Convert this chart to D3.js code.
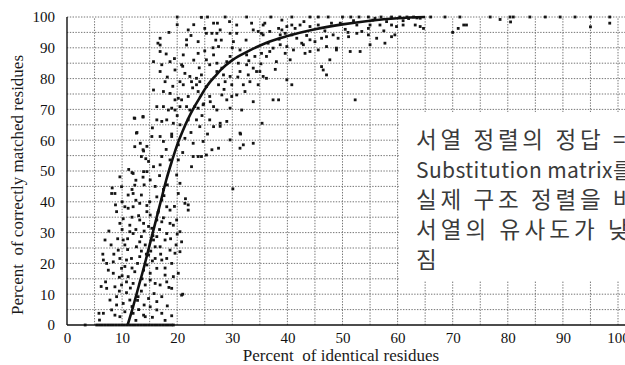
<!DOCTYPE html>
<html><head><meta charset="utf-8">
<script src="https://cdn.jsdelivr.net/npm/d3@7"></script>
<style>
html,body{margin:0;padding:0;background:#fff;}
svg{display:block;}
</style></head>
<body>
<svg id="c" width="625" height="365"></svg>
<script>
// ---- data (percent identical, percent correctly matched) ----
const xTicks = [0,10,20,30,40,50,60,70,80,90,100];
const yTicks = [0,10,20,30,40,50,60,70,80,90,100];
const gridSteps = [5,10,15,20,25,30,35,40,45,50,55,60,65,70,75,80,85,90,95,100];
const xTitle = "Percent  of identical residues";
const yTitle = "Percent  of correctly matched residues";
const noteLines = ["서열 정렬의 정답 =", "Substitution matrix를", "실제 구조 정렬을 바", "서열의 유사도가 낮", "짐"];
const notePrefixes = ["서열 정렬의 정답 ", "Substitution matrix", "실제 구조 정렬을 ", "서열의 유사도가 ", ""];
const notePrefixWidths = [197, 197, 197, 192, 0];

const curve = [[11,0],[12,6],[13,12.5],[14,19],[15,26],[16,33],[17,40],[18,47],[19,53],[20,58.5],[21,63],[22,67],[23,70.5],[24,73.5],[25,76.5],[26,79],[27,81],[28,83],[30,86],[33,89],[36,91.5],[40,93.8],[45,96],[50,97.6],[55,98.8],[60,99.6],[65,100]];

const zeroRow = [3.3,5.4,5.9,6.4,6.9,7.4,7.9,8.4,8.9,9.4,9.9,10.4,10.9,11.4,11.9,12.4,12.9,13.4,13.9,14.4,14.9,15.4,15.9,16.4,16.9,17.4,17.9,18.4,18.9,19.3];

const lowPts = [[9.6,48.1],[12.0,49.2],[13.9,49.8],[9.9,44.9],[12.3,45.4],[15.1,47.1],[19.9,48.7],[20.5,46.0],[8.1,42.7],[8.7,42.7],[11.1,42.2],[12.0,42.7],[13.5,42.2],[13.2,39.5],[16.3,41.6],[17.2,40.6],[20.2,42.7],[21.4,39.5],[22.0,37.3],[10.5,38.4],[11.1,37.9],[12.0,38.4],[14.5,36.8],[15.1,35.7],[18.1,38.4],[18.7,37.3],[9.0,36.8],[19.9,34.1],[13.2,34.1],[13.9,33.0],[16.3,34.1],[17.2,33.5],[18.7,33.0],[19.3,32.4],[9.6,33.0],[11.4,32.4],[6.9,27.6],[10.2,27.6],[11.4,30.3],[12.0,29.7],[13.5,28.7],[15.4,31.4],[15.7,27.6],[16.3,28.7],[18.1,29.7],[20.5,30.3],[20.8,27.0],[17.8,27.6],[9.3,24.3],[10.5,26.0],[12.6,25.4],[14.2,26.0],[16.0,25.4],[16.9,25.4],[18.7,24.3],[19.6,23.3],[20.5,23.8],[6.6,21.1],[7.2,20.0],[8.4,20.5],[9.6,21.6],[10.8,21.1],[11.7,21.6],[13.2,22.2],[14.8,22.7],[16.0,21.6],[17.2,21.1],[18.1,21.6],[19.0,20.0],[7.5,17.8],[8.4,16.8],[9.9,18.4],[11.1,15.7],[12.3,17.3],[13.9,17.8],[15.1,16.8],[16.3,18.4],[17.8,16.2],[19.3,15.7],[20.2,16.8],[7.2,11.9],[8.7,12.4],[9.9,13.0],[10.8,14.0],[12.0,13.5],[14.2,13.0],[15.1,14.6],[16.0,13.5],[16.9,13.0],[18.1,14.0],[19.0,11.9],[20.8,9.7],[7.8,8.1],[9.0,9.2],[10.2,7.0],[11.4,8.1],[12.9,9.2],[14.8,8.6],[16.3,7.6],[17.2,9.2],[6.6,3.8],[8.1,4.9],[9.6,2.7],[10.5,4.3],[12.0,3.8],[13.9,3.2],[15.1,5.9],[16.3,4.9],[17.2,3.8],[5.9,1.6],[8.7,3.2],[14.2,2.7],[10.5,19],[11.8,18.5],[12.8,20],[14.5,19.5],[15.5,20.8],[13.5,24],[11,24.5],[9.2,28],[12.5,31],[14,30.5],[16.8,31],[13,35.5],[10,40],[11.8,35],[14.5,38.8],[16.5,36.5],[17.5,44],[12.5,47],[8.2,44.5],[10.8,10.5],[13.5,11],[15.8,10.2],[9.5,11],[11.8,6],[14,6.5],[18.2,6.2],[19,3],[12.5,1.5],[9,6.5],[7,14],[8,26],[6.5,23],[18.5,12.2],[17.8,18.5],[19.8,26],[20,29.5],[10,31],[13.2,27],[15.2,24],[17,23],[30.1,44.2],[21,10],[21.5,41],[22,39],[5.8,3.8],
[12.8,8],[13.6,15],[14.4,23],[15.6,29],[16.6,37],[17.6,42],[15,40],[16,45],[14,45.5],[12.5,40.5],[11,28],[10,16],[11.5,12],[13,5],[15.5,2.5],[17.8,1.5],[9.5,15.5],[8.5,23],[10.2,34.5],[14.8,32],[17.5,34.8],[18.8,28],[19.5,38.5],[11.8,44],[13.8,48],[16.8,48.5],[18.2,45.5],[7.6,30.5],[8.8,39],[6.2,12.5]];

const midPts = [[24.4,99.9],[25.5,100],[28.7,100],[32.6,100],[22.0,95.8],[25.0,96.3],[26.6,98.0],[27.3,98.0],[25.3,94.7],[26.3,94.7],[27.2,94.7],[27.8,95.8],[29.6,94.7],[30.8,97.4],[30.8,94.7],[33.8,95.8],[34.7,95.3],[35.3,94.7],[35.9,98.0],[16.9,93.1],[16.9,90.9],[16.9,88.8],[21.7,92.6],[21.7,90.9],[23.8,92.0],[27.5,90.4],[30.2,92.0],[21.1,87.7],[23.8,88.2],[26.6,87.7],[29.6,87.2],[31.4,89.3],[32.6,87.7],[34.1,87.2],[35.3,88.2],[15.7,85.5],[17.2,84.5],[18.7,85.5],[25.3,86.1],[25.9,84.5],[27.2,85.0],[28.1,83.4],[29.0,85.5],[31.1,85.0],[32.6,84.5],[33.8,83.4],[16.9,82.3],[19.6,82.8],[21.4,81.7],[22.3,80.7],[23.5,80.1],[24.4,81.2],[27.2,82.3],[28.4,81.2],[29.6,80.7],[31.4,82.3],[32.9,81.2],[34.4,82.3],[17.8,79.0],[20.5,79.0],[21.1,78.0],[22.6,79.0],[23.5,78.0],[24.1,79.0],[25.3,77.4],[27.5,78.0],[28.7,79.0],[29.9,78.0],[32.0,78.0],[33.2,79.0],[34.7,78.0],[15.7,76.3],[17.5,75.8],[18.7,75.2],[19.6,73.1],[20.2,73.6],[20.8,73.1],[22.0,74.2],[23.8,75.8],[25.9,74.2],[28.1,74.7],[29.0,73.1],[29.9,74.2],[30.8,74.7],[32.3,75.8],[33.8,72.5],[12.3,67.1],[13.8,67.7],[16.3,70.9],[17.5,70.9],[18.4,69.8],[19.0,70.4],[19.6,69.8],[20.5,70.9],[21.7,70.9],[22.3,69.8],[23.2,70.9],[23.8,70.4],[24.7,71.5],[26.6,70.9],[27.2,69.8],[29.6,70.4],[31.7,69.8],[12.6,62.3],[16.3,66.6],[17.2,66.1],[18.1,66.6],[19.3,65.5],[20.5,65.0],[22.0,66.6],[23.5,66.6],[24.1,64.4],[25.9,66.6],[26.6,64.4],[27.8,65.5],[29.0,66.1],[31.4,62.3],[12.3,57.9],[13.8,56.9],[15.4,61.2],[16.9,61.2],[17.5,59.6],[19.0,61.2],[20.2,58.5],[21.4,60.6],[22.9,59.0],[24.7,59.6],[26.3,56.9],[27.5,57.4],[29.6,60.1],[32.0,58.5],[33.8,59.0],[13.5,54.7],[14.8,53.1],[17.2,54.7],[18.7,53.6],[20.2,53.6],[22.9,54.7],[23.8,54.7],[24.4,54.7],[25.3,55.2],[16.9,52.0],[15.7,51.4],[22.6,51.4],[12.2,67.2],[13.8,67.5],[12.7,62.5],[13.3,59],[13.9,56.5],[14.3,54],[11.2,50.5],[11.8,49.5],[14.5,49.8],[35.4,65.5],[31.4,57.4],[31.5,62],[27.8,64.5],[16.5,91.5],[19.5,86.5],[21,84],[24,83.5],[26.5,90],[28,92.5],[30,90],[32.5,92.5],[18.5,95],[23,97.5],[20,100],[29.5,98.5],[33.5,98],
[19,62],[18,57],[15.5,64],[14.5,58],[21,56],[22.5,62.5],[25.5,62],[20,68],[24.5,68],[26,72.5],[22.8,77],[19.2,77.5],[18.2,80.5],[20.8,84.5],[23,86],[25,89],[18,88],[22.5,94],[20,97.5],[27,92.5],[24.8,71.8],[28.5,76.5],[31,80.5],[33,85.8],[35.2,84.8]];

const highPts = [[40.8,100],[44.1,100],[45.6,100],[47.4,100],[54.7,100],[55.9,99.6],[58.9,100],[60.4,100],[61.7,100],[62.9,100],[64.1,99.6],[35.6,97.4],[38.4,96.3],[39.0,95.8],[39.9,96.9],[40.8,97.4],[41.4,96.3],[42.3,97.4],[44.1,96.9],[45.6,97.4],[48.0,98.0],[49.6,98.0],[52.6,97.4],[54.7,96.3],[55.0,97.4],[56.8,97.4],[58.9,97.4],[59.8,96.9],[61.0,97.4],[63.2,97.4],[64.1,96.9],[64.7,96.3],[35.6,94.2],[36.8,95.3],[38.7,94.2],[39.6,94.7],[40.8,94.2],[41.7,93.1],[42.6,91.5],[44.1,92.6],[45.0,92.0],[46.2,93.1],[47.1,93.6],[48.3,94.2],[49.2,93.1],[51.1,93.6],[52.6,94.7],[53.5,95.3],[54.7,94.2],[56.2,93.1],[57.7,91.5],[58.9,93.6],[59.5,94.2],[36.5,91.5],[37.4,89.9],[38.7,91.0],[39.9,90.4],[41.1,89.3],[42.9,91.0],[44.1,88.8],[45.6,89.3],[47.1,90.4],[48.9,89.9],[51.4,88.8],[53.2,88.8],[55.0,91.0],[36.8,88.8],[36.2,87.2],[38.0,85.5],[39.6,88.2],[40.5,86.1],[43.2,88.2],[46.2,83.9],[46.5,82.8],[47.1,81.2],[47.7,86.1],[48.9,89.3],[35.0,82.3],[35.6,80.7],[36.2,80.1],[39.9,79.6],[40.8,78.0],[37.4,73.1],[38.4,73.1],[52.3,73.1],[50,100],[51.5,100],[53,100],[57,100],[62,99.5],[63.5,99.7],[37,100],[39,99],[43,98.5],[50.5,96],[57.5,95.5],[66,100],[68.6,100],[71.3,100],[76.8,100],[80.4,100],[84,100],[86.8,100],[89.5,100],[92.2,100],[95,100],[98.5,100],[70,95],[71,96.3],[72,97.4],[72.5,97.4],[78.6,99.2],[80.5,98.4],[81,100],[95,96.8],[98.5,98],
[37.8,83],[38.5,92.8],[43.5,94],[46.8,95.5],[51,95],[52,98.8],[55.5,99],[58,98.5],[61,98.8]];

// ---- drawing ----
const W = 625, H = 365;
const x = d3.scaleLinear().domain([0,100]).range([67,618]);
const y = d3.scaleLinear().domain([0,100]).range([325,17]);
const svg = d3.select("#c");
const serif = "'Liberation Serif','Times New Roman',serif";

// grid
const grid = svg.append("g").attr("stroke","#666").attr("stroke-width",0.9).attr("stroke-dasharray","1.4,1.4");
grid.selectAll("line.v").data(gridSteps).join("line").attr("class","v")
  .attr("x1",d=>x(d)).attr("x2",d=>x(d)).attr("y1",y(0)).attr("y2",y(100));
grid.selectAll("line.h").data(gridSteps).join("line").attr("class","h")
  .attr("x1",x(0)).attr("x2",W).attr("y1",d=>y(d)).attr("y2",d=>y(d));

// points
const allPts = zeroRow.map(v=>[v,0]).concat(lowPts, midPts, highPts);
svg.append("g").attr("fill","#151515").selectAll("rect").data(allPts).join("rect")
  .attr("x",d=>x(d[0])-1.4).attr("y",d=>y(d[1])-1.4).attr("width",2.8).attr("height",2.8);

// curve
svg.append("path").datum(curve)
  .attr("d", d3.line().x(d=>x(d[0])).y(d=>y(d[1])).curve(d3.curveMonotoneX))
  .attr("fill","none").attr("stroke","#111").attr("stroke-width",2.6);

// axes
const xAxis = d3.axisBottom(x).tickValues(xTicks).tickSize(0).tickPadding(7);
const gx = svg.append("g").attr("transform",`translate(0,${y(0)})`).call(xAxis);
gx.select(".domain").remove();
gx.selectAll("text").attr("font-family",serif).attr("font-size",15).attr("fill","#111");
const yAxis = d3.axisLeft(y).tickValues(yTicks).tickSize(0).tickPadding(12);
const gy = svg.append("g").attr("transform",`translate(${x(0)},0)`).call(yAxis);
gy.select(".domain").remove();
gy.selectAll("text").attr("font-family",serif).attr("font-size",15).attr("fill","#111");

svg.append("line").attr("x1",x(0)).attr("x2",W).attr("y1",y(0)).attr("y2",y(0)).attr("stroke","#111").attr("stroke-width",1.6);
svg.append("line").attr("x1",x(0)).attr("x2",x(0)).attr("y1",y(0)).attr("y2",y(100)).attr("stroke","#111").attr("stroke-width",1.4);

// titles
svg.append("text").attr("x",341).attr("y",361).attr("text-anchor","middle")
  .attr("font-family",serif).attr("font-size",17).attr("fill","#1a1a1a").style("white-space","pre").text(xTitle);
svg.append("text").attr("transform","translate(23,185) rotate(-90)").attr("text-anchor","middle")
  .attr("font-family",serif).attr("font-size",17).attr("fill","#1a1a1a").style("white-space","pre").text(yTitle);

// annotation box
svg.append("rect").attr("x",400).attr("y",112).attr("width",W-400).attr("height",169).attr("fill","#fff");
const kfont = "'Noto Sans CJK KR','Noto Sans',sans-serif";
noteLines.forEach((t,i)=>{
  const isLatin = /^[A-Za-z]/.test(t);
  const fs = isLatin ? 21 : 22.5;
  let ls = 0;
  if (notePrefixes[i]) {
    const probe = svg.append("text").attr("font-family",kfont).attr("font-size",fs)
      .style("white-space","pre").text(notePrefixes[i]);
    const w = probe.node().getComputedTextLength();
    probe.remove();
    ls = (notePrefixWidths[i] - w) / notePrefixes[i].length;
  }
  svg.append("text").attr("x",416).attr("y",148+30*i)
    .attr("font-family",kfont).attr("font-size",fs).attr("fill","#3a3a3a")
    .style("letter-spacing", ls.toFixed(2)+"px").style("white-space","pre").text(t);
});
</script>
</body></html>
